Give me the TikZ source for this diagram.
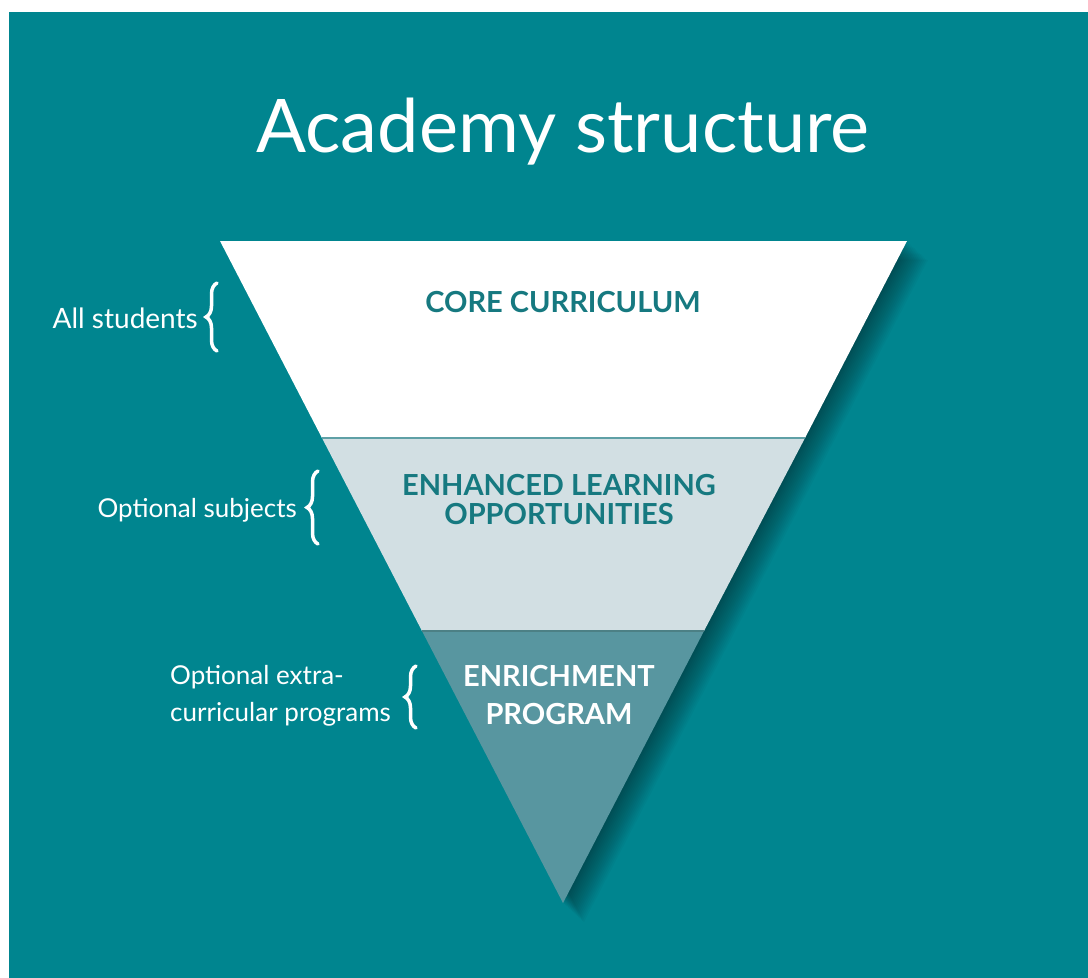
\documentclass[tikz,border=0pt]{standalone}
\usepackage{fontspec}
\setmainfont{Lato}
\usetikzlibrary{decorations.pathreplacing,calc}
\definecolor{bgteal}{RGB}{0,133,143}
\definecolor{txteal}{RGB}{22,121,128}
\definecolor{lightband}{RGB}{210,223,227}
\definecolor{darkband}{RGB}{88,150,160}
\definecolor{edgeline}{RGB}{95,160,166}
\tikzset{
  title/.style={text=white, font=\fontsize{74}{80}\selectfont, inner sep=0pt},
  bandlabel/.style={text=txteal, font=\bfseries\fontsize{29}{29}\selectfont, align=center, inner sep=0pt},
  darklabel/.style={text=white, font=\bfseries\fontsize{29}{38}\selectfont, align=center, inner sep=0pt},
  sidelabel/.style={text=white, font=\fontsize{26}{37}\selectfont, inner sep=0pt},
  bracestyle/.style={draw=white, line width=3.5pt, line cap=round, decorate, decoration={brace, amplitude=11pt, aspect=0.5}},
  shadowlayer/.style={fill=black, opacity=0.028},
}
\begin{document}
\begin{tikzpicture}[x=1pt,y=-1pt]
\useasboundingbox (0,0) rectangle (1088,978);
\fill[white] (0,0) rectangle (1088,978);
\fill[bgteal] (9,12) rectangle (1088,978);
% triangle corners
\coordinate (L) at (220,241);
\coordinate (R) at (907,241);
\coordinate (A) at (563,903);
\coordinate (L1) at (322,438);
\coordinate (R1) at (805,438);
\coordinate (L2) at (422,631);
\coordinate (R2) at (704,631);
% shadow
\foreach \i in {1,...,16}{
  \path[shadowlayer] ($(L)+(\i*1.3,\i*1.2)$) -- ($(R)+(\i*1.3,\i*1.2)$) -- ($(A)+(\i*1.3,\i*1.2)$) -- cycle;
}
% bands
\fill[white] (L) -- (R) -- (R1) -- (L1) -- cycle;
\fill[lightband] (L1) -- (R1) -- (R2) -- (L2) -- cycle;
\fill[darkband] (L2) -- (R2) -- (A) -- cycle;
\draw[edgeline, line width=1.6pt] (L1) -- (R1);
\draw[edgeline!80!black, line width=1.2pt] (L2) -- (R2);
% texts
\node[title] (t) at (563,132) {Academy structure};
\node[bandlabel] (core) at (563,302) {CORE CURRICULUM};
\node[bandlabel] (enh) at (559,500) {ENHANCED LEARNING\\OPPORTUNITIES};
\node[darklabel] (enr) at (559,695) {ENRICHMENT\\PROGRAM};
\node[sidelabel, anchor=east, font=\fontsize{28}{37}\selectfont] (s1) at (198,318) {All students};
\node[sidelabel, anchor=east] (s2) at (297,510) {Optional subjects};
\node[sidelabel, anchor=west, align=left] (s3) at (170,696) {Optional extra-\\curricular programs};
% braces
\coordinate (b1t) at (217,283);
\coordinate (b1b) at (217,351);
\coordinate (b2t) at (318,471);
\coordinate (b2b) at (318,544);
\coordinate (b3t) at (416,666);
\coordinate (b3b) at (416,728);
\draw[bracestyle] (b1b) -- (b1t);
\draw[bracestyle] (b2b) -- (b2t);
\draw[bracestyle] (b3b) -- (b3t);
\end{tikzpicture}
\end{document}
